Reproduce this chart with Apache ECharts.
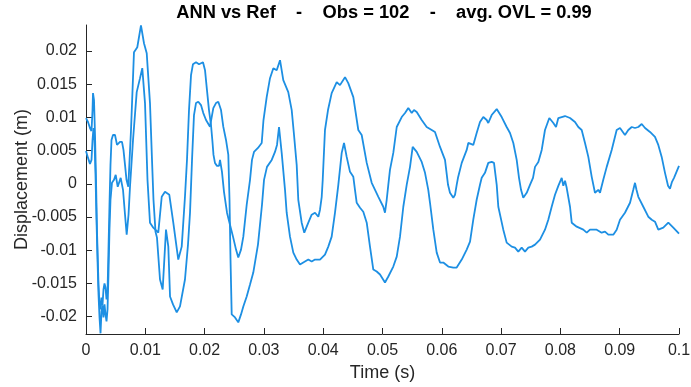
<!DOCTYPE html>
<html><head><meta charset="utf-8">
<script src="https://cdn.jsdelivr.net/npm/echarts@6/dist/echarts.min.js"></script>
<style>html,body{margin:0;padding:0;background:#fff}#c{width:691px;height:387px}</style>
</head><body><div id="c"></div>
<script>
const titleText = 'ANN vs Ref    -    Obs = 102    -    avg. OVL = 0.99';
const xLabel = 'Time (s)';
const yLabel = 'Displacement (m)';
const yTicks = [-0.02, -0.015, -0.01, -0.005, 0, 0.005, 0.01, 0.015, 0.02];

const timeA = [
0,0.00034,0.00067,0.00093,0.0011,0.00118,0.00135,0.00152,0.00169,0.00185,
0.00211,0.00228,0.00245,0.00261,0.00278,0.00295,0.00312,0.00329,0.00346,0.00363,
0.00379,0.00396,0.00413,0.0043,0.00455,0.00489,0.00523,0.00548,0.00573,0.00607,
0.00632,0.00658,0.00683,0.00713,0.00759,0.00809,0.00865,0.00894,0.00927,0.00978,
0.01024,0.01079,0.01113,0.01138,0.01172,0.01197,0.01248,0.01293,0.01349,0.01388,
0.01417,0.01467,0.0153,0.01585,0.01669,0.0172,0.01754,0.01788,0.01821,0.01855,
0.01894,0.01939,0.01978,0.02024,0.02091,0.02147,0.02192,0.02231,0.02277,0.02315,
0.02361,0.024,0.0242,0.02437,0.02457,0.02513,0.02568,0.02614,0.02653,0.0271,
0.02766,0.02821,0.029,0.02968,0.03002,0.03052,0.03132,0.03187,0.03221,0.03255,
0.033,0.03356,0.03384,0.0344,0.03496,0.03553,0.03609,0.03664,0.03749,0.03806,
0.03862,0.03946,0.0403,0.04086,0.04143,0.04199,0.04255,0.04312,0.04351,0.04396,
0.04452,0.04508,0.04536,0.04565,0.04621,0.04676,0.04734,0.04789,0.04845,0.04902,
0.04958,0.05042,0.05098,0.05182,0.0524,0.05295,0.05351,0.05408,0.05464,0.05509,
0.05577,0.05661,0.05717,0.05772,0.05801,0.05857,0.05914,0.0597,0.06025,0.0611,
0.06194,0.06251,0.06336,0.0642,0.06476,0.06531,0.06588,0.06644,0.06673,0.06728,
0.06784,0.06841,0.0688,0.06926,0.06953,0.07037,0.07094,0.07179,0.07234,0.0729,
0.07347,0.07403,0.07459,0.07516,0.07572,0.07656,0.0774,0.07796,0.07853,0.07909,
0.07965,0.08022,0.08049,0.08078,0.08106,0.08162,0.08191,0.08275,0.08386,0.08444,
0.08499,0.08612,0.08696,0.08752,0.08808,0.08892,0.08949,0.09005,0.09089,0.09174,
0.09229,0.09258,0.09283,0.09314,0.09398,0.09482,0.0954,0.09595,0.09651,0.09735,
0.0982,0.09904,0.1];
const dispA = [
0.0099,0.0093,0.0084,0.00795,0.0111,0.01365,0.0126,0.00735,0.0006,-0.0069,
-0.01515,-0.01815,-0.0189,-0.0171,-0.0183,-0.0159,-0.015,-0.0156,-0.0174,-0.0162,
-0.0099,-0.00315,0.00285,0.0066,0.00735,0.00735,0.00585,0.00555,0.0063,0.0063,
0.0051,0.00285,0.0006,-0.00045,0.0081,0.0198,0.02055,0.02085,0.02385,0.02115,
0.01965,0.01215,0.0036,-0.0024,-0.0072,-0.0081,-0.0144,-0.0159,-0.0069,-0.00945,
-0.01695,-0.01815,-0.01935,-0.01845,-0.0144,-0.00915,-0.00435,0.0036,0.01035,0.01215,
0.01235,0.01185,0.01065,0.0096,0.0086,0.0114,0.01215,0.01235,0.0111,0.0086,
0.0066,0.00435,-0.0024,-0.0114,-0.01965,-0.0201,-0.02085,-0.01965,-0.01845,-0.01695,
-0.01515,-0.01335,-0.00915,-0.00315,0.0006,0.00255,0.0036,0.0048,0.00585,0.00855,
0.00465,-0.0009,-0.00435,-0.00795,-0.01035,-0.0114,-0.01215,-0.01185,-0.0114,-0.0117,
-0.0114,-0.0114,-0.01065,-0.00945,-0.00795,-0.00435,-0.00015,0.00465,0.00615,0.00405,
0.0018,0.00105,-0.0009,-0.00285,-0.0036,-0.0042,-0.00585,-0.00945,-0.0129,-0.0132,
-0.01365,-0.01485,-0.01395,-0.01245,-0.01095,-0.00795,-0.00345,-0.00015,0.00255,0.00555,
0.0048,0.0033,0.00165,-0.0009,-0.00285,-0.0069,-0.01035,-0.01185,-0.01185,-0.01245,
-0.0126,-0.0126,-0.0114,-0.0099,-0.0087,-0.0054,-0.0024,-0.00015,0.0009,0.00165,
0.00315,0.0033,0.00315,-0.00015,-0.00345,-0.0069,-0.00885,-0.00945,-0.0096,-0.0102,
-0.0096,-0.0102,-0.0096,-0.00945,-0.00915,-0.0084,-0.0069,-0.0054,-0.00345,-0.00165,
-0.0003,0.0009,-0.0003,0.00045,-0.0006,-0.00345,-0.00585,-0.00645,-0.0069,-0.00735,
-0.0069,-0.0069,-0.00735,-0.0072,-0.00765,-0.00765,-0.0069,-0.0054,-0.00435,-0.00285,
-0.0009,0.00015,-0.0009,-0.00195,-0.00345,-0.00495,-0.0054,-0.0057,-0.0069,-0.0066,
-0.00585,-0.0066,-0.0075];

const timeB = [
0,0.00034,0.00067,0.00093,0.0011,0.00126,0.00143,0.0016,0.00177,0.00194,
0.00211,0.00228,0.00245,0.00261,0.00278,0.00295,0.00312,0.00329,0.00346,0.00363,
0.00379,0.00396,0.00413,0.00438,0.00472,0.00501,0.00535,0.00585,0.00624,0.00658,
0.00686,0.00717,0.00742,0.00793,0.00855,0.00911,0.00949,0.00995,0.01037,0.01079,
0.01135,0.01219,0.01277,0.01332,0.01405,0.01472,0.01556,0.01614,0.01669,0.01703,
0.01737,0.01771,0.01804,0.01855,0.01906,0.01939,0.01973,0.02007,0.0204,0.02074,
0.02108,0.02133,0.0215,0.02175,0.02209,0.02243,0.0226,0.02293,0.02327,0.02378,
0.02428,0.02479,0.0253,0.02568,0.02614,0.02653,0.0271,0.02766,0.02799,0.02833,
0.029,0.02963,0.02993,0.03047,0.03103,0.03159,0.03216,0.03272,0.03327,0.03411,
0.03469,0.03508,0.03553,0.0358,0.03637,0.03681,0.03749,0.03806,0.03862,0.03918,
0.03946,0.03975,0.03992,0.0403,0.04081,0.04143,0.04228,0.04283,0.04368,0.04423,
0.04508,0.04592,0.04649,0.04734,0.04818,0.04874,0.0493,0.05013,0.05042,0.05071,
0.05098,0.05126,0.05182,0.0524,0.05324,0.0538,0.05435,0.05493,0.05531,0.05577,
0.05661,0.05745,0.0583,0.05885,0.0597,0.06054,0.06105,0.06138,0.06194,0.06223,
0.06251,0.06273,0.06336,0.0642,0.06447,0.06476,0.06531,0.06588,0.06644,0.067,
0.06757,0.06784,0.06841,0.06926,0.0701,0.07094,0.0715,0.07206,0.07263,0.07302,
0.07336,0.07374,0.07432,0.07487,0.07538,0.07572,0.07628,0.07685,0.0774,0.07813,
0.07881,0.07926,0.07965,0.08078,0.08162,0.08246,0.08302,0.08359,0.08415,0.08471,
0.08528,0.08583,0.08639,0.08668,0.08723,0.08781,0.08865,0.08949,0.09005,0.09089,
0.09145,0.09203,0.09258,0.09314,0.09371,0.09427,0.09511,0.09595,0.09651,0.09708,
0.09764,0.09815,0.09848,0.09882,0.09916,0.09949,0.1];
const dispB = [
0.00495,0.0039,0.003,0.0036,0.0066,0.0084,0.0066,0.00135,-0.0054,-0.0114,
-0.01665,-0.0201,-0.0225,-0.0192,-0.0183,-0.0201,-0.01815,-0.01965,-0.0207,-0.0189,
-0.01365,-0.0069,-0.0024,0.00015,0.0006,0.00135,-0.00045,0.0009,-0.0009,-0.00465,
-0.00765,-0.00465,-0.00045,0.0066,0.0138,0.0159,0.0174,0.01215,0.0006,-0.00585,
-0.0066,-0.00735,-0.00195,-0.0012,-0.00165,-0.00585,-0.0114,-0.00945,-0.00195,0.0036,
0.0111,0.01635,0.018,0.0183,0.018,0.0183,0.0183,0.0171,0.0141,0.0111,
0.00885,0.0063,0.00435,0.00315,0.0027,0.0027,0.0036,0.0018,-0.0012,-0.00435,
-0.00615,-0.00795,-0.0099,-0.0111,-0.0099,-0.00795,-0.00315,0.0006,0.0036,0.0048,
0.0054,0.00615,0.0096,0.01305,0.0159,0.0174,0.0171,0.0186,0.0156,0.0138,
0.0111,0.00735,0.00285,-0.0024,-0.00585,-0.00735,-0.00585,-0.00465,-0.00435,-0.00495,
-0.0039,-0.00195,0.0006,0.0081,0.0111,0.01365,0.0153,0.01485,0.01605,0.01515,
0.01305,0.0081,0.00735,0.00315,0.00015,-0.0009,-0.00195,-0.00345,-0.00435,-0.0024,
-0.00015,0.0021,0.00465,0.00855,0.01005,0.01065,0.0114,0.01065,0.0111,0.0108,
0.0096,0.00855,0.0081,0.0078,0.00555,0.0036,-0.00015,-0.00135,-0.0021,-0.00165,
-0.00015,0.0009,0.00315,0.0051,0.00615,0.00615,0.00585,0.00765,0.0093,0.01005,
0.0096,0.00915,0.01035,0.01125,0.01005,0.00855,0.00765,0.00615,0.0036,0.0009,
-0.0009,-0.0021,-0.00135,-0.00015,0.0009,0.00255,0.0033,0.0051,0.0081,0.0099,
0.00915,0.00855,0.0099,0.0102,0.0099,0.0093,0.00855,0.0081,0.00615,0.00405,
0.00105,-0.00135,-0.0009,-0.00135,0.0006,0.00255,0.0051,0.0081,0.0084,0.00735,
0.0081,0.00855,0.0084,0.00855,0.009,0.0084,0.0078,0.00705,0.00585,0.00405,
0.00165,-0.0003,-0.00075,0.0003,0.0009,0.00105,0.0027];

const FONT = '"Liberation Sans", Arial, Helvetica, sans-serif';
const TXT = '#262626';
const LINE = '#1d8fe3';
const pairs = (t, v) => t.map((x, i) => [x, v[i]]);

const chart = echarts.init(document.getElementById('c'), null, {renderer: 'canvas'});
chart.setOption({
  animation: false,
  backgroundColor: '#fff',
  textStyle: {fontFamily: FONT},
  grid: {left: 86, right: 12, top: 25, bottom: 53, containLabel: false, outerBoundsMode: 'none'},
  graphic: [{
    type: 'text', x: 384, y: 13,
    style: {text: titleText, fill: '#000', font: 'bold 18.3px ' + FONT, textAlign: 'center', textVerticalAlign: 'middle'}
  }],
  xAxis: {
    type: 'value', min: 0, max: 0.1, interval: 0.01,
    name: xLabel, nameLocation: 'middle', nameGap: 30, nameMoveOverlap: false,
    nameTextStyle: {fontSize: 18, color: TXT, fontFamily: FONT},
    axisLine: {show: true, onZero: false, lineStyle: {color: TXT, width: 1}},
    axisTick: {show: true, inside: true, length: 6, lineStyle: {color: TXT}},
    axisLabel: {color: TXT, fontSize: 16, margin: 9, fontFamily: FONT},
    splitLine: {show: false}
  },
  yAxis: {
    type: 'value', min: -0.0226, max: 0.0239,
    name: yLabel, nameLocation: 'middle', nameGap: 55, nameMoveOverlap: false,
    nameTextStyle: {fontSize: 18, color: TXT, fontFamily: FONT},
    axisLine: {show: true, onZero: false, lineStyle: {color: TXT, width: 1}},
    axisTick: {show: true, inside: true, length: 6, customValues: yTicks, lineStyle: {color: TXT}},
    axisLabel: {color: TXT, fontSize: 16, margin: 9, customValues: yTicks, fontFamily: FONT,
      formatter: v => String(+v.toFixed(4))},
    splitLine: {show: false}
  },
  series: [
    {type: 'line', data: pairs(timeA, dispA), showSymbol: false, symbol: 'none',
     lineStyle: {color: LINE, width: 1.8}, itemStyle: {color: LINE}, clip: true},
    {type: 'line', data: pairs(timeB, dispB), showSymbol: false, symbol: 'none',
     lineStyle: {color: LINE, width: 1.8}, itemStyle: {color: LINE}, clip: true}
  ]
});
</script></body></html>
